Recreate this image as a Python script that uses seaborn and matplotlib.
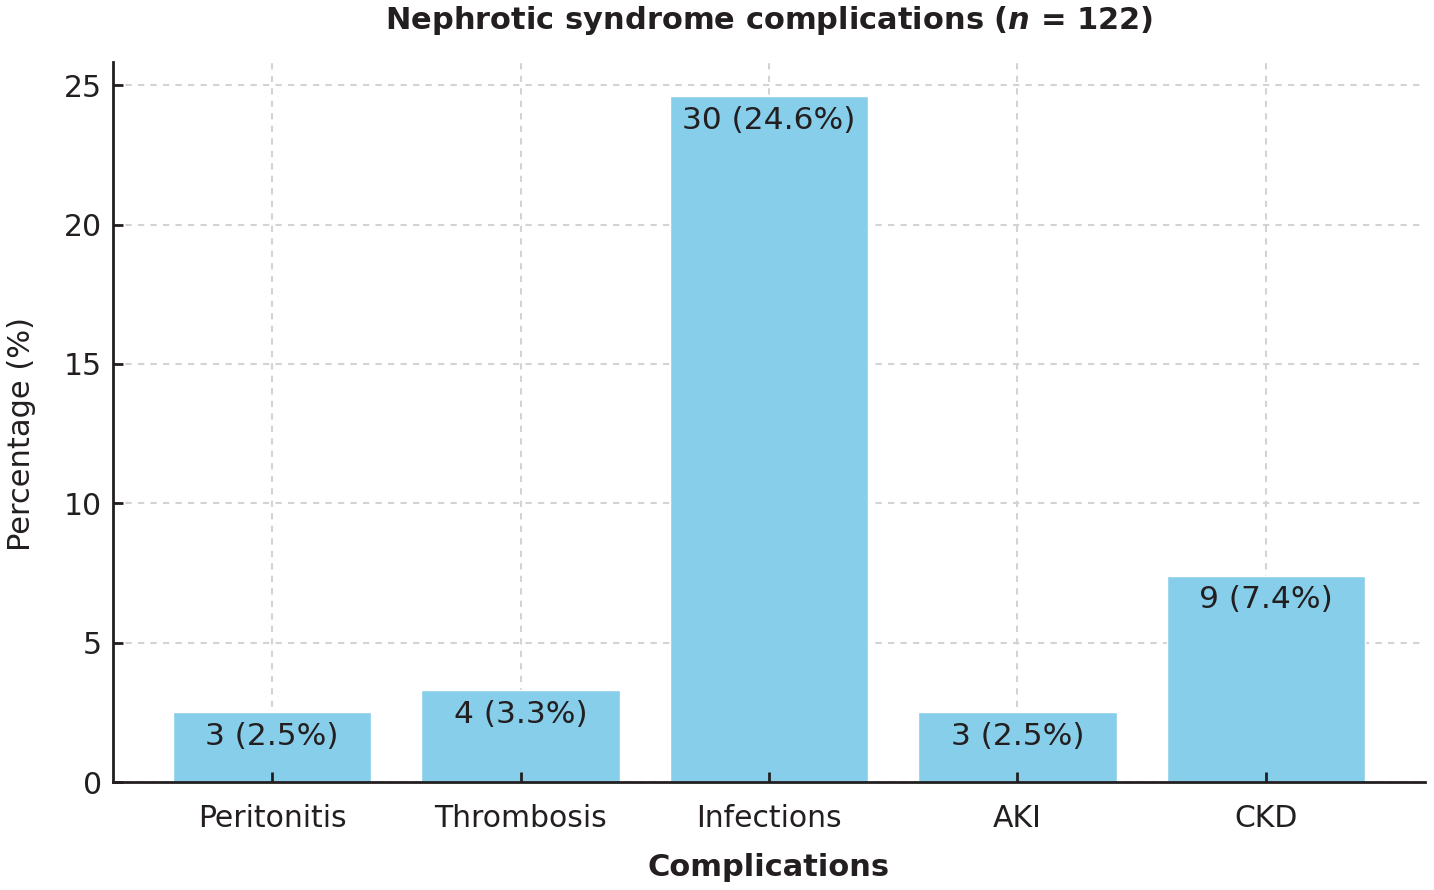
import matplotlib
matplotlib.use("Agg")
import matplotlib.pyplot as plt
import seaborn as sns
import pandas as pd

categories = ["Peritonitis", "Thrombosis", "Infections", "AKI", "CKD"]
counts = [3, 4, 30, 3, 9]
percentages = [2.5, 3.3, 24.6, 2.5, 7.4]
y_ticks = [0, 5, 10, 15, 20, 25]

sns.set_theme(style="white")
plt.rcParams['font.family'] = ['DejaVu Sans']
plt.rcParams['mathtext.fontset'] = 'custom'
plt.rcParams['mathtext.it'] = 'DejaVu Sans:bold:italic'
plt.rcParams['mathtext.rm'] = 'DejaVu Sans:bold'

txt = '#231f20'
df = pd.DataFrame({"Complication": categories, "Percentage": percentages, "Count": counts})

fig = plt.figure(figsize=(14.34, 8.9), dpi=100)
ax = fig.add_axes([0.0788, 0.1213, 0.9149, 0.809])

sns.barplot(data=df, x="Complication", y="Percentage", color="#87CEEB",
            saturation=1, width=0.8, ax=ax, zorder=2)

# grid lines behind bars, axis (ticks) above bars
ax.grid(False)
ax.set_axisbelow(False)
grid_kw = dict(linestyle=(0, (3, 3)), color='#d3d3d3', linewidth=1.5, zorder=1)
for y in y_ticks:
    ax.axhline(y, **grid_kw)
for i in range(len(categories)):
    ax.axvline(i, **grid_kw)

for i, (c, p) in enumerate(zip(counts, percentages)):
    ax.annotate(f"{c} ({p}%)", xy=(i, p), xytext=(0, -7), textcoords='offset points',
                ha='center', va='top', fontsize=22.5, color=txt, zorder=3)

ax.set_xlim(-0.64, len(categories) - 0.36)
ax.set_ylim(0, max(percentages) * 1.05)
ax.set_yticks(y_ticks)
ax.tick_params(axis='both', direction='in', length=7, width=2, colors=txt,
               labelsize=21.5, pad=8, bottom=True, left=True)
ax.tick_params(axis='x', pad=16)
for s in ['top', 'right']:
    ax.spines[s].set_visible(False)
for s in ['left', 'bottom']:
    ax.spines[s].set_linewidth(2)
    ax.spines[s].set_color(txt)

ax.set_xlabel("Complications", fontsize=22, fontweight='bold', color=txt, labelpad=14)
ax.set_ylabel("Percentage (%)", fontsize=22, color=txt)
ax.yaxis.set_label_coords(-0.059, 0.484)
ax.set_title(r"Nephrotic syndrome complications ($n$ = 122)", fontsize=22,
             fontweight='bold', color=txt, pad=24)

fig.savefig("out.png", dpi=100)
